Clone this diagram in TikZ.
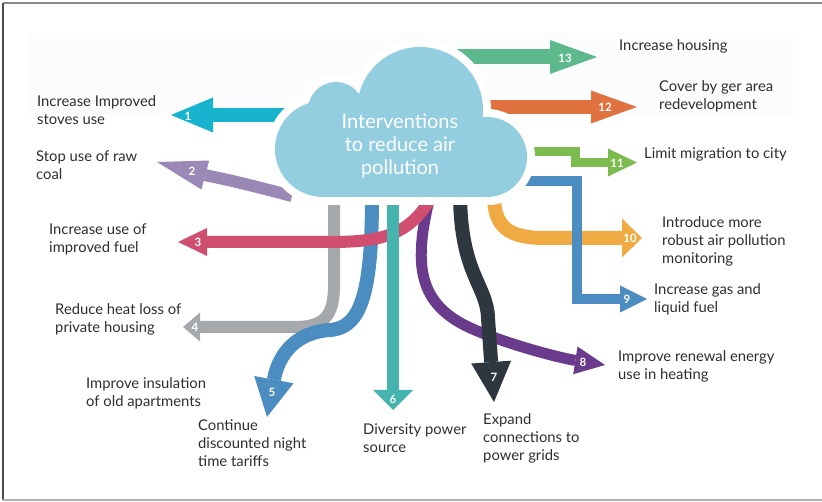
\documentclass[tikz,border=0pt]{standalone}
\usepackage{fontspec}
\setmainfont{Lato}
\usetikzlibrary{arrows.meta}

\definecolor{cloudblue}{HTML}{92CDE0}
\definecolor{textgray}{HTML}{2E2E2E}
\definecolor{bgtint}{HTML}{FAFCFD}
\definecolor{cone}{HTML}{17B3CF}
\definecolor{ctwo}{HTML}{9A88B6}
\definecolor{cthree}{HTML}{D04E70}
\definecolor{cfour}{HTML}{A6A9AB}
\definecolor{cfive}{HTML}{4B8DC1}
\definecolor{csix}{HTML}{46B4AE}
\definecolor{cseven}{HTML}{2E3640}
\definecolor{ceight}{HTML}{6A3B8C}
\definecolor{cten}{HTML}{F0AA43}
\definecolor{celeven}{HTML}{7CBB4E}
\definecolor{ctwelve}{HTML}{E07240}
\definecolor{cthirteen}{HTML}{5DB98C}

\tikzset{
  fatarrow/.style n args={4}{draw=#1, line width=#2, -{Triangle[length=#3, width=#4, line width=0pt]}},
  note/.style={anchor=north west, inner sep=0pt, align=left, text=textgray, font=\fontsize{14.8}{18}\selectfont},
  num/.style={inner sep=0pt, text=white, font=\fontsize{11.5}{11.5}\selectfont\bfseries},
}

\begin{document}
\begin{tikzpicture}[x=1pt,y=-1pt]
        \useasboundingbox (0,0) rectangle (822,502);
        % frame
        \draw[color=gray!90, line width=2pt] (822,3.5) -- (3,3.5);
        \draw[color=black!70, line width=1.2pt] (3,3.5) -- (3,500);
        \draw[color=gray!60, line width=1.2pt] (3,500) -- (822,500);
        \fill[bgtint] (27,33) rectangle (793,115);

        % arrows, back to front
        \draw[fatarrow={cfour}{12pt}{17pt}{29pt}] (334,196) -- (334,285) .. controls (334,315) and (325,327) .. (295,327) -- (183,327);
        \draw[fatarrow={cfive}{14pt}{38pt}{40pt}] (372,196) .. controls (372,290) and (362,328) .. (330,330) .. controls (298,332) and (279,352) .. (267,417);
        \draw[fatarrow={ceight}{11pt}{30pt}{28pt}] (430,196) .. controls (414,262) and (415,305) .. (475,330) .. controls (510,345) and (560,358) .. (605,365);
        \draw[fatarrow={cthree}{12pt}{29pt}{28pt}] (432,196) .. controls (410,236) and (380,242) .. (330,242) -- (178,242);
        \draw[fatarrow={csix}{12pt}{20pt}{40pt}] (393,196) -- (393,410);
        \draw[fatarrow={cseven}{14pt}{40pt}{40pt}] (460,196) .. controls (461,275) and (487,285) .. (488,318) -- (494,402);
        \draw[fatarrow={cten}{14pt}{20pt}{39pt}] (494,196) .. controls (494,228) and (510,238) .. (545,238) -- (642,238);
        \draw[fatarrow={cfive}{10pt}{27pt}{27pt}] (515,181) -- (577,181) -- (577,299) -- (647,299);
        \draw[fatarrow={celeven}{9.5pt}{29pt}{28pt}] (532,151.5) -- (575.5,151.5) -- (575.5,162.5) -- (637,162.5);
        \draw[fatarrow={ctwelve}{14pt}{46pt}{33pt}] (480,107) -- (637,107);
        \draw[fatarrow={cthirteen}{15pt}{47pt}{34pt}] (450,57) -- (597,57);
        \draw[fatarrow={cone}{14pt}{42pt}{35pt}] (300,115) -- (171,115);
        \draw[fatarrow={ctwo}{12pt}{50pt}{30pt}] (292,196) .. controls (265,189) and (235,181) .. (209,176) -- (157,162);

        % cloud: white halo, then the fill
        \foreach \cx/\cy/\r in {323/149/48, 336/110/28, 420/110/63, 487/157/40}
            \draw[white, line width=16pt] (\cx,\cy) circle (\r);
        \draw[white, line width=16pt] (323,150) rectangle (487,197);
        \foreach \cx/\cy/\r in {323/149/48, 336/110/28, 420/110/63, 487/157/40}
            \fill[cloudblue] (\cx,\cy) circle (\r);
        \fill[cloudblue] (323,150) rectangle (487,197);
        \node[align=center, text=white, font=\fontsize{20}{23}\selectfont] (hub) at (400,146) {Interventions\\to reduce air\\pollution};

        % numbers on the heads
        \node[num] (n1) at (188,116) {1};
        \node[num] (n2) at (192,171) {2};
        \node[num] (n3) at (198,242) {3};
        \node[num] (n4) at (195,327) {4};
        \node[num] (n5) at (272,392) {5};
        \node[num] (n6) at (393,399) {6};
        \node[num] (n7) at (494,377) {7};
        \node[num] (n8) at (583,362) {8};
        \node[num] (n9) at (627,299) {9};
        \node[num] (n10) at (630,238) {10};
        \node[num] (n11) at (617,163) {11};
        \node[num] (n12) at (605,107) {12};
        \node[num] (n13) at (565,58) {13};

        % texts
        \node[note] (l1) at (37,95) {Increase Improved\\stoves use};
        \node[note] (l2) at (36,151) {Stop use of raw\\coal};
        \node[note] (l3) at (49,224) {Increase use of\\improved fuel};
        \node[note] (l4) at (55,303) {Reduce heat loss of\\private housing};
        \node[note] (l5a) at (86,377) {Improve insulation\\of old apartments};
        \node[note] (l5b) at (198,419) {Continue\\discounted night\\time tariffs};
        \node[note] (l6) at (363,424) {Diversity power\\source};
        \node[note] (l7) at (483,413) {Expand\\connections to\\power grids};
        \node[note] (l8) at (618,350) {Improve renewal energy\\use in heating};
        \node[note] (l9) at (654,283) {Increase gas and\\liquid fuel};
        \node[note] (l10) at (662,216) {Introduce more\\robust air pollution\\monitoring};
        \node[note] (l11) at (644,147) {Limit migration to city};
        \node[note] (l12) at (659,80) {Cover by ger area\\redevelopment};
        \node[note] (l13) at (619,39) {Increase housing};
\end{tikzpicture}
\end{document}
